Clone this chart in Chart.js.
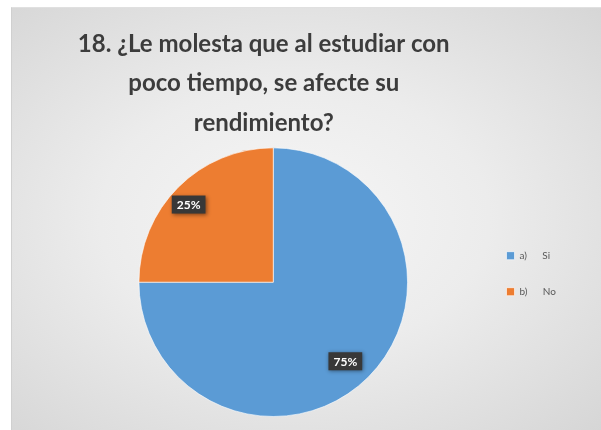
<!DOCTYPE html>
<html>
<head>
<meta charset="utf-8">
<script src="https://cdn.jsdelivr.net/npm/chart.js@4"></script>
<style>
  html, body { margin: 0; padding: 0; background: #ffffff; }
  #box {
    position: absolute; left: 11px; top: 7px; width: 590px; height: 423px;
    background: radial-gradient(ellipse at 48% 50%, #f6f6f6 0%, #ececec 45%, #d6d6d6 100%);
    border-left: 1px solid #d0d0d0; border-top: 1px solid #e0e0e0;
    box-sizing: border-box;
  }
</style>
</head>
<body>
<div id="box"><canvas id="chart"></canvas></div>
<script>
// data
const categories = ['a)      Si', 'b)      No'];
const values = [75, 25];
const percentLabels = ['75%', '25%'];
const sliceColors = ['#5B9BD5', '#ED7D31'];
const titleLines = ['18. ¿Le molesta que al estudiar con', 'poco tiempo, se afecte su', 'rendimiento?'];

// nudge title a bit left and legend a bit up, like the original
const nudge = {
  id: 'nudge',
  beforeDraw(chart) {
    chart.titleBlock.left -= 19;
    chart.legend.top -= 17;
  }
};

// dark callout boxes on the slices
const labelBoxes = {
  id: 'labelBoxes',
  afterDatasetsDraw(chart) {
    const ctx = chart.ctx;
    const meta = chart.getDatasetMeta(0);
    const factors = [0.78, 0.87]; // how far out along the slice
    meta.data.forEach((arc, i) => {
      const mid = (arc.startAngle + arc.endAngle) / 2;
      const r = arc.outerRadius * factors[i];
      const x = arc.x + Math.cos(mid) * r - 2;
      const y = arc.y + Math.sin(mid) * r + 5;
      ctx.save();
      ctx.font = 'bold 12px Lato';
      const w = ctx.measureText(percentLabels[i]).width + 10;
      const h = 18;
      ctx.shadowColor = 'rgba(0,0,0,0.45)';
      ctx.shadowBlur = 4;
      ctx.shadowOffsetX = 1;
      ctx.shadowOffsetY = 1;
      ctx.fillStyle = '#383838';
      ctx.fillRect(x - w / 2, y - h / 2, w, h);
      ctx.shadowColor = 'transparent';
      ctx.fillStyle = '#ffffff';
      ctx.textAlign = 'center';
      ctx.textBaseline = 'middle';
      ctx.fillText(percentLabels[i], x, y + 1);
      ctx.restore();
    });
  }
};

new Chart(document.getElementById('chart'), {
  type: 'pie',
  data: {
    labels: categories,
    datasets: [{
      data: values,
      backgroundColor: sliceColors,
      borderColor: 'rgba(255,255,255,0.6)',
      borderWidth: 1
    }]
  },
  options: {
    responsive: true,
    maintainAspectRatio: false,
    animation: false,
    layout: { padding: { left: 54, right: 35, top: 0, bottom: 13 } },
    plugins: {
      tooltip: { enabled: false },
      title: {
        display: true,
        fullSize: false,
        text: titleLines,
        color: '#3c3c3c',
        font: { family: 'Lato', size: 24, weight: 'bold', lineHeight: 1.63 },
        padding: { top: 17, bottom: 5 }
      },
      legend: {
        position: 'right',
        fullSize: false,
        labels: {
          boxWidth: 8,
          boxHeight: 8,
          padding: 26,
          color: '#595959',
          font: { family: 'Lato', size: 10 }
        }
      }
    }
  },
  plugins: [labelBoxes, nudge]
});
</script>
</body>
</html>
